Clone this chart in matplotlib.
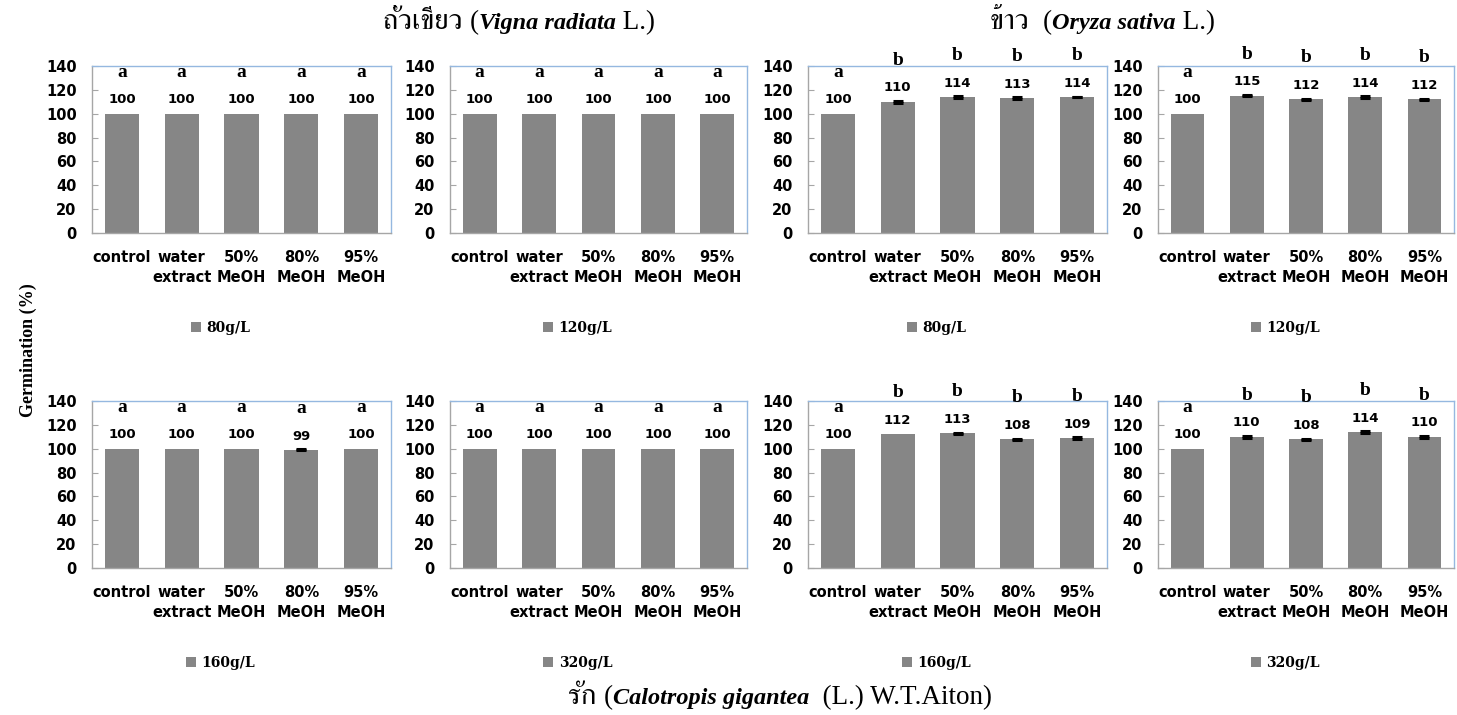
import matplotlib
matplotlib.use("Agg")
import matplotlib.pyplot as plt
from matplotlib import font_manager
from matplotlib.ft2font import FT2Font
from matplotlib.patches import Patch

# ---------------- data ----------------
categories = ["control", "water\nextract", "50%\nMeOH", "80%\nMeOH", "95%\nMeOH"]

vigna_80 = [100, 100, 100, 100, 100]
vigna_120 = [100, 100, 100, 100, 100]
vigna_160 = [100, 100, 100, 99, 100]
vigna_320 = [100, 100, 100, 100, 100]
oryza_80 = [100, 110, 114, 113, 114]
oryza_120 = [100, 115, 112, 114, 112]
oryza_160 = [100, 112, 113, 108, 109]
oryza_320 = [100, 110, 108, 114, 110]

vigna_80_err = [0, 0, 0, 0, 0]
vigna_120_err = [0, 0, 0, 0, 0]
vigna_160_err = [0, 0, 0, 0.4, 0]
vigna_320_err = [0, 0, 0, 0, 0]
oryza_80_err = [0, 0.6, 0.5, 0.6, 0.4]
oryza_120_err = [0, 0.4, 0.5, 0.5, 0.6]
oryza_160_err = [0, 0, 0.5, 0.5, 0.8]
oryza_320_err = [0, 0.7, 0.4, 0.5, 0.8]

letters_vigna = ["a", "a", "a", "a", "a"]
letters_oryza = ["a", "b", "b", "b", "b"]

legend_labels = ["80g/L", "120g/L", "160g/L", "320g/L"]
yticks = [0, 20, 40, 60, 80, 100, 120, 140]

title_vigna = [("ถั่วเขียว ", "thai"), ("(", "norm"), ("Vigna radiata", "ital"), (" L.)", "norm")]
title_oryza = [("ข้าว  ", "thai"), ("(", "norm"), ("Oryza sativa", "ital"), (" L.)", "norm")]
title_bottom = [("รัก ", "thai"), ("(", "norm"), ("Calotropis gigantea", "ital"), ("  (L.) W.T.Aiton)", "norm")]
ylabel_text = "Germination (%)"

# ---------------- fonts ----------------
thai_candidates = []
for fe in font_manager.fontManager.ttflist:
    try:
        cmap = FT2Font(fe.fname).get_charmap()
        if 0x0E16 in cmap and 0x0E31 in cmap and 0x0E49 in cmap:
            thai_candidates.append(fe.name)
    except Exception:
        pass
thai_family = None
for n in thai_candidates:
    if "Serif" in n:
        thai_family = n
        break
if thai_family is None and thai_candidates:
    thai_family = thai_candidates[0]
serif_list = ["Liberation Serif"] + ([thai_family] if thai_family else []) + ["DejaVu Serif"]
thai_list = ([thai_family] if thai_family else []) + ["Liberation Serif", "DejaVu Serif"]

sans_bold = "DejaVu Sans"

# ---------------- figure ----------------
W, H = 1457, 715
fig = plt.figure(figsize=(W / 100, H / 100), dpi=100)

col_left = [92, 450, 808, 1158]
col_width = [299, 297, 299, 296]
row_top = [66, 401]
ax_h = 167

panels = [
    (0, 0, vigna_80, vigna_80_err, letters_vigna, legend_labels[0]),
    (0, 1, vigna_120, vigna_120_err, letters_vigna, legend_labels[1]),
    (0, 2, oryza_80, oryza_80_err, letters_oryza, legend_labels[0]),
    (0, 3, oryza_120, oryza_120_err, letters_oryza, legend_labels[1]),
    (1, 0, vigna_160, vigna_160_err, letters_vigna, legend_labels[2]),
    (1, 1, vigna_320, vigna_320_err, letters_vigna, legend_labels[3]),
    (1, 2, oryza_160, oryza_160_err, letters_oryza, legend_labels[2]),
    (1, 3, oryza_320, oryza_320_err, letters_oryza, legend_labels[3]),
]

bar_color = "#868686"
blue_border = "#95b8e0"
axis_gray = "#a6a6a6"

for r, c, vals, errs, lets, leg in panels:
    left = col_left[c] / W
    bottom = 1 - (row_top[r] + ax_h) / H
    ax = fig.add_axes([left, bottom, col_width[c] / W, ax_h / H])
    x = list(range(len(categories)))
    ax.bar(x, vals, width=0.57, color=bar_color, zorder=2)
    for xi, v, e in zip(x, vals, errs):
        if e > 0:
            ax.errorbar(xi, v, yerr=e, fmt="none", ecolor="black",
                        elinewidth=1.5, capsize=3.5, capthick=2.2, zorder=3)
    for xi, v, l in zip(x, vals, lets):
        ax.annotate(str(v), xy=(xi, v), xytext=(0, 10), textcoords="offset points",
                    ha="center", va="center", fontsize=9.5, fontweight="bold",
                    family=sans_bold, annotation_clip=False)
        ax.annotate(l, xy=(xi, v), xytext=(0, 30), textcoords="offset points",
                    ha="center", va="center", fontsize=14, fontweight="bold",
                    family=serif_list, annotation_clip=False)
    ax.set_xlim(-0.5, len(categories) - 0.5)
    ax.set_ylim(0, 140)
    ax.set_yticks(yticks)
    ax.set_xticks(x)
    ax.set_xticklabels(categories, fontsize=10.5, fontweight="bold",
                       family=sans_bold, linespacing=1.45)
    for lab in ax.get_yticklabels():
        lab.set_fontweight("bold")
        lab.set_family(sans_bold)
        lab.set_fontsize(10.5)
    ax.tick_params(axis="x", length=0, pad=12)
    ax.tick_params(axis="y", direction="in", length=4, width=0.8,
                   color=axis_gray, pad=11)
    ax.spines["left"].set_color(axis_gray)
    ax.spines["bottom"].set_color(axis_gray)
    ax.spines["top"].set_color(blue_border)
    ax.spines["right"].set_color(blue_border)
    for s in ax.spines.values():
        s.set_linewidth(1.0)
    handle = Patch(facecolor=bar_color, edgecolor="none")
    ax.legend([handle], [leg], loc="center", bbox_to_anchor=(0.43, -0.57),
              frameon=False, handlelength=0.7, handleheight=0.7,
              handletextpad=0.4,
              prop={"family": "DejaVu Serif", "weight": "bold", "size": 10})

# ---------------- overlay text ----------------
ov = fig.add_axes([0, 0, 1, 1])
ov.axis("off")
ov.set_xlim(0, W)
ov.set_ylim(H, 0)

styles = {
    "thai": dict(family=thai_list, fontsize=21),
    "norm": dict(family=serif_list, fontsize=19.5),
    "ital": dict(family=serif_list, fontsize=17.5, style="italic", fontweight="bold"),
}

renderer = fig.canvas.get_renderer()


def chain(x, y, parts):
    cur = x
    for txt, st in parts:
        t = ov.text(cur, y, txt, ha="left", va="baseline", **styles[st])
        bb = t.get_window_extent(renderer=renderer)
        cur += bb.width


chain(383, 29, title_vigna)
chain(990, 29, title_oryza)
chain(568, 704, title_bottom)

ov.text(28, 350, ylabel_text, rotation=90, ha="center", va="center",
        family=serif_list, fontsize=13, fontweight="bold")

fig.savefig("out.png", dpi=100)
